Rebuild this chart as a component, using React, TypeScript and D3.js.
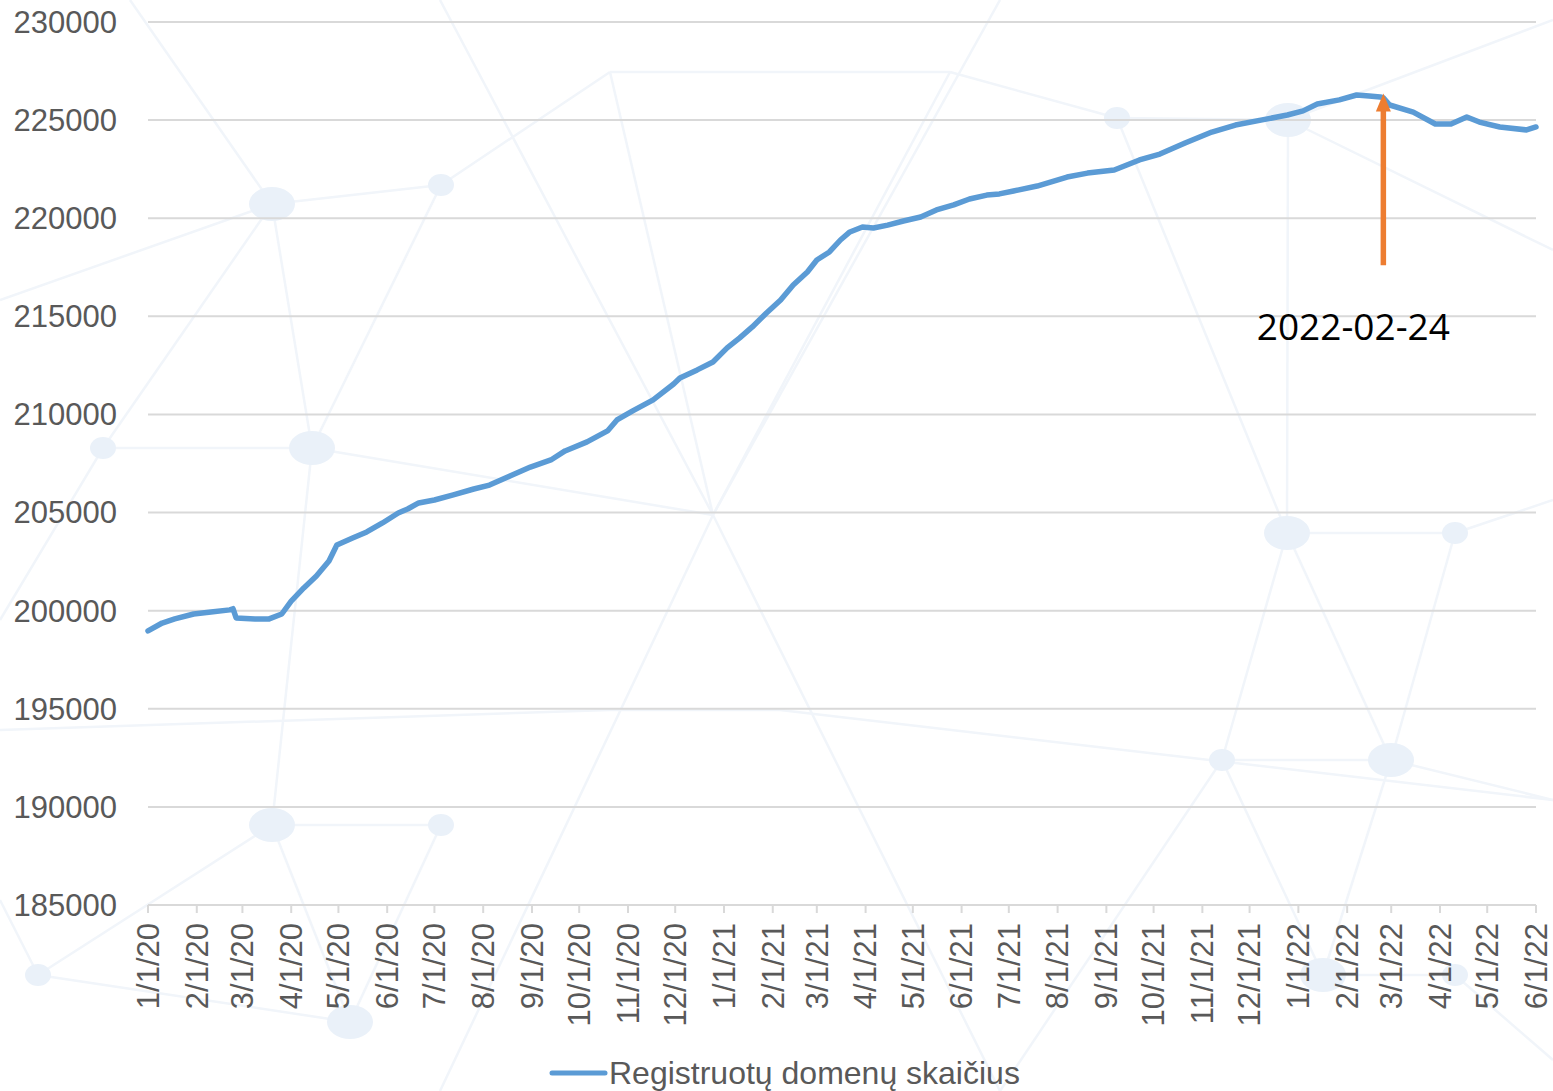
import React, { useEffect, useRef } from 'react';
import * as d3 from 'd3';

// registered .lt domains
const dates: string[] = [
  '2020-01-01', '2020-01-10', '2020-01-18', '2020-01-30', '2020-02-10', '2020-02-22', '2020-02-24', '2020-02-26',
  '2020-03-09', '2020-03-18', '2020-03-26', '2020-04-01', '2020-04-09', '2020-04-17', '2020-04-25', '2020-04-30',
  '2020-05-10', '2020-05-19', '2020-05-29', '2020-06-08', '2020-06-14', '2020-06-21', '2020-07-01', '2020-07-13',
  '2020-07-26', '2020-08-05', '2020-08-18', '2020-08-31', '2020-09-13', '2020-09-22', '2020-10-06', '2020-10-19',
  '2020-10-25', '2020-11-04', '2020-11-17', '2020-11-30', '2020-12-04', '2020-12-15', '2020-12-25', '2021-01-03',
  '2021-01-11', '2021-01-19', '2021-01-28', '2021-02-06', '2021-02-14', '2021-02-23', '2021-03-01', '2021-03-09',
  '2021-03-16', '2021-03-22', '2021-03-30', '2021-04-06', '2021-04-15', '2021-04-25', '2021-05-06', '2021-05-16',
  '2021-05-27', '2021-06-06', '2021-06-17', '2021-06-25', '2021-07-04', '2021-07-19', '2021-08-07', '2021-08-20',
  '2021-09-06', '2021-09-22', '2021-10-05', '2021-10-21', '2021-11-07', '2021-11-22', '2021-12-09', '2021-12-25',
  '2022-01-04', '2022-01-13', '2022-01-27', '2022-02-07', '2022-02-15', '2022-02-22', '2022-02-24', '2022-02-28',
  '2022-03-15', '2022-03-29', '2022-04-08', '2022-04-18', '2022-04-26', '2022-05-09', '2022-05-26', '2022-06-01',
];

const domains: number[] = [
  198970, 199370, 199580, 199830, 199930, 200040, 200100, 199630,
  199580, 199580, 199830, 200490, 201160, 201770, 202530, 203350,
  203700, 204010, 204470, 204980, 205180, 205490, 205640, 205900,
  206200, 206400, 206860, 207320, 207680, 208140, 208600, 209160,
  209720, 210180, 210740, 211550, 211860, 212270, 212670, 213390,
  213900, 214460, 215170, 215830, 216600, 217260, 217870, 218280,
  218890, 219300, 219550, 219500, 219650, 219860, 220060, 220420,
  220680, 220980, 221180, 221240, 221390, 221640, 222100, 222300,
  222460, 222970, 223270, 223830, 224390, 224750, 225010, 225260,
  225470, 225820, 226030, 226280, 226230, 226180, 226130, 225770,
  225410, 224800, 224800, 225160, 224900, 224650, 224500, 224650,
];

const yTicks: number[] = [185000, 190000, 195000, 200000, 205000, 210000, 215000, 220000, 225000, 230000];
const seriesName = 'Registruotų domenų skaičius';
const eventDate = '2022-02-24';
const eventArrow: [number, number] = [217600, 226350];

// faint network picture behind the plot (decoration only)
const bgNodes: [number, number, number][] = [
  [272, 204, 1], [441, 185, 0], [312, 448, 1], [103, 448, 0], [272, 825, 1], [441, 825, 0],
  [38, 975, 0], [350, 1022, 1], [1117, 118, 0], [1288, 120, 1], [1287, 533, 1], [1455, 533, 0],
  [1222, 760, 0], [1391, 760, 1], [1323, 975, 1], [1455, 975, 0],
];
const bgLinks: [number, number, number, number][] = [
  [272, 204, 441, 185], [272, 204, 312, 448], [272, 204, 103, 448], [103, 448, 312, 448], [312, 448, 441, 185],
  [0, 620, 103, 448], [0, 300, 272, 204], [130, 0, 272, 204], [441, 185, 610, 72], [610, 72, 950, 72],
  [610, 72, 713, 515], [950, 72, 713, 515], [713, 515, 440, 1091], [713, 515, 1000, 1091], [440, 0, 713, 515],
  [1000, 0, 713, 515], [312, 448, 713, 515], [0, 730, 610, 710], [610, 710, 780, 710], [780, 710, 1553, 800],
  [272, 825, 441, 825], [272, 825, 38, 975], [272, 825, 350, 1022], [441, 825, 350, 1022], [38, 975, 350, 1022],
  [38, 975, 0, 900], [312, 448, 272, 825], [1117, 118, 1288, 120], [1288, 120, 1553, 20], [1288, 120, 1287, 533],
  [1288, 120, 1553, 250], [1287, 533, 1455, 533], [1287, 533, 1222, 760], [1287, 533, 1391, 760], [1455, 533, 1391, 760],
  [1455, 533, 1553, 500], [1222, 760, 1391, 760], [1391, 760, 1323, 975], [1222, 760, 1323, 975], [1323, 975, 1455, 975],
  [1391, 760, 1553, 800], [1117, 118, 950, 72], [1222, 760, 1000, 1091], [1455, 975, 1553, 1060], [1117, 118, 1287, 533],
];

const W = 1553;
const H = 1091;

const App: React.FC = () => {
  const svgRef = useRef<SVGSVGElement>(null);

  useEffect(() => {
    if (!svgRef.current) return;
    const svg = d3.select(svgRef.current);
    svg.selectAll('*').remove();

    const parse = d3.utcParse('%Y-%m-%d');
    const data = dates.map((d, i) => ({ date: parse(d) as Date, value: domains[i] }));

    const x = d3.scaleUtc()
      .domain([parse('2020-01-01') as Date, parse('2022-06-01') as Date])
      .range([148, 1536]);
    const y = d3.scaleLinear().domain([185000, 230000]).range([905, 22]);

    const font = '"Liberation Sans", Arial, sans-serif';
    const grey = '#595959';

    svg.append('rect').attr('width', W).attr('height', H).attr('fill', '#ffffff');

    // background network
    const bg = svg.append('g');
    bg.selectAll('line').data(bgLinks).enter().append('line')
      .attr('x1', d => d[0]).attr('y1', d => d[1]).attr('x2', d => d[2]).attr('y2', d => d[3])
      .attr('stroke', '#f1f5fa').attr('stroke-width', 2.5);
    bg.selectAll('ellipse').data(bgNodes).enter().append('ellipse')
      .attr('cx', d => d[0]).attr('cy', d => d[1])
      .attr('rx', d => (d[2] ? 23 : 13)).attr('ry', d => (d[2] ? 17 : 11))
      .attr('fill', '#eaf1f9');

    // gridlines
    svg.append('g').selectAll('line').data(yTicks.slice(1)).enter().append('line')
      .attr('x1', 148).attr('x2', 1536)
      .attr('y1', d => y(d)).attr('y2', d => y(d))
      .attr('stroke', '#d9d9d9').attr('stroke-width', 2);

    // y labels
    svg.append('g').selectAll('text').data(yTicks).enter().append('text')
      .attr('x', 117).attr('y', d => y(d)).attr('dy', '0.35em')
      .attr('text-anchor', 'end')
      .attr('font-family', font).attr('font-size', 31).attr('fill', grey)
      .text(d => String(d));

    // x axis
    const months = d3.utcMonth.range(x.domain()[0], d3.utcDay.offset(x.domain()[1], 1));
    const xa = svg.append('g');
    xa.append('line').attr('x1', 148).attr('x2', 1536).attr('y1', 905).attr('y2', 905)
      .attr('stroke', '#d9d9d9').attr('stroke-width', 2);
    xa.selectAll('line.tick').data(months).enter().append('line').attr('class', 'tick')
      .attr('x1', d => x(d)).attr('x2', d => x(d)).attr('y1', 905).attr('y2', 913)
      .attr('stroke', '#d9d9d9').attr('stroke-width', 2);
    const fmt = d3.utcFormat('%-m/%-d/%y');
    xa.selectAll('text').data(months).enter().append('text')
      .attr('transform', d => `translate(${x(d)},923) rotate(-90)`)
      .attr('dy', '0.35em')
      .attr('text-anchor', 'end')
      .attr('font-family', font).attr('font-size', 31).attr('fill', grey)
      .text(d => fmt(d));

    // series
    const line = d3.line<{ date: Date; value: number }>()
      .x(d => x(d.date))
      .y(d => y(d.value));
    svg.append('path').datum(data)
      .attr('d', line)
      .attr('fill', 'none')
      .attr('stroke', '#5b9bd5')
      .attr('stroke-width', 5.5)
      .attr('stroke-linejoin', 'round')
      .attr('stroke-linecap', 'round');

    // event arrow
    const ex = x(parse(eventDate) as Date);
    const yTop = y(eventArrow[1]);
    const yBot = y(eventArrow[0]);
    const arrowCol = '#ed7d31';
    svg.append('line')
      .attr('x1', ex).attr('x2', ex).attr('y1', yBot).attr('y2', yTop + 16)
      .attr('stroke', arrowCol).attr('stroke-width', 5.5);
    svg.append('path')
      .attr('d', `M${ex},${yTop} L${ex + 7.5},${yTop + 18} L${ex - 7.5},${yTop + 18} Z`)
      .attr('fill', arrowCol);
    svg.append('text')
      .attr('x', ex - 30).attr('y', y(215000) + 24)
      .attr('text-anchor', 'middle')
      .attr('font-family', '"Open Sans", Lato, sans-serif')
      .attr('font-size', 37).attr('fill', '#000000')
      .text(eventDate);

    // legend
    svg.append('line').attr('x1', 552).attr('x2', 605).attr('y1', 1073).attr('y2', 1073)
      .attr('stroke', '#5b9bd5').attr('stroke-width', 5).attr('stroke-linecap', 'round');
    svg.append('text').attr('x', 609).attr('y', 1073).attr('dy', '0.35em')
      .attr('font-family', font).attr('font-size', 32).attr('fill', grey)
      .text(seriesName);
  }, []);

  return (
    <div style={{ position: 'absolute', left: 0, top: 0 }}>
      <svg ref={svgRef} width={W} height={H} style={{ display: 'block' }} />
    </div>
  );
};

export default App;
